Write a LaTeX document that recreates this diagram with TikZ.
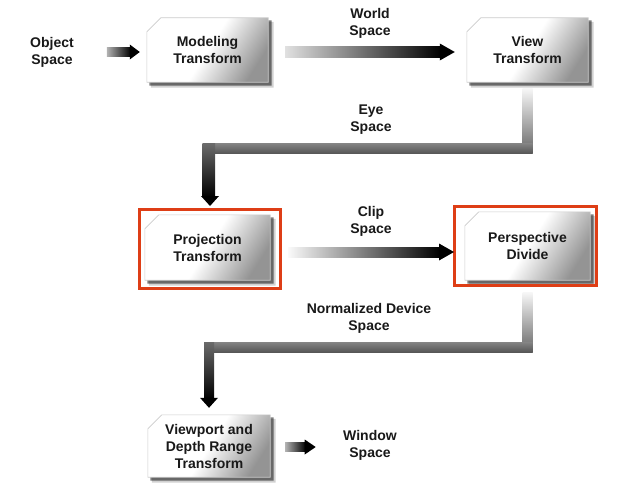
\documentclass[tikz,border=0pt]{standalone}
\usepackage{fontspec}
\setmainfont{Liberation Sans}
\usetikzlibrary{calc,backgrounds}
\definecolor{framered}{RGB}{222,62,22}
\newcommand\chambox[1]{%
  \fill[black, opacity=.18] ($(#1.north west)+(4,-18)$) -- ($(#1.north west)+(18,-4)$) -- ($(#1.north east)+(5.5,-4)$) -- ($(#1.south east)+(5.5,-5.5)$) -- ($(#1.south west)+(4,-5.5)$) -- cycle;
  \fill[black, opacity=.5] ($(#1.north west)+(2.5,-16.5)$) -- ($(#1.north west)+(16.5,-2.5)$) -- ($(#1.north east)+(3.5,-2.5)$) -- ($(#1.south east)+(3.5,-3.5)$) -- ($(#1.south west)+(2.5,-3.5)$) -- cycle;
  \shade[boxshade] ($(#1.north west)+(0,-14)$) -- ($(#1.north west)+(14,0)$) -- (#1.north east) -- (#1.south east) -- (#1.south west) -- cycle;
}
% start, tip, shaft half, head half, head length, shading
\newcommand\hArrow[6]{%
  \shade[#6] ($(#1)+(0,#3)$) rectangle ($(#2)+(-#5+1,-#3)$);
  \fill[black] ($(#2)+(-#5,#4)$) -- (#2) -- ($(#2)+(-#5,-#4)$) -- cycle;
}
\begin{document}
\begin{tikzpicture}[x=1pt,y=1pt,
  lbl/.style={align=center, text=black!90, font=\bfseries\fontsize{14}{17}\selectfont},
  boxnode/.style={lbl, inner sep=0pt},
  boxshade/.style={draw=black!20, line width=0.6pt, top color=white, bottom color=black!42, middle color=white, shading angle=58},
  redframe/.style={draw=framered, line width=3pt, inner sep=0pt}]
\useasboundingbox (0,0) rectangle (644,-495);

% boxes
\node[boxnode, minimum width=121, minimum height=64] (mod) at (207.5,-50) {Modeling\\Transform};
\node[boxnode, minimum width=121, minimum height=64] (view) at (527.5,-50) {View\\Transform};
\node[boxnode, minimum width=125, minimum height=65] (proj) at (207.5,-247.5) {Projection\\Transform};
\node[boxnode, minimum width=125, minimum height=68] (persp) at (527.5,-246) {Perspective\\Divide};
\node[boxnode, minimum width=122, minimum height=62] (vp) at (209,-446) {Viewport and\\Depth Range\\Transform};

\node[redframe, minimum width=141, minimum height=79] (projf) at (210,-249) {};
\node[redframe, minimum width=142, minimum height=79] (perspf) at (525.5,-246) {};

% labels
\node[lbl] (objs) at (52,-52) {Object\\Space};
\node[lbl] (world) at (370,-23) {World\\Space};
\node[lbl] (eye) at (371,-120) {Eye\\Space};
\node[lbl] (clip) at (371,-221) {Clip\\Space};
\node[lbl] (ndc) at (369,-318) {Normalized Device\\Space};
\node[lbl] (wins) at (370,-445) {Window\\Space};

\begin{pgfonlayer}{background}
  \fill[white] (0,0) rectangle (644,-495);
  \chambox{mod}
  \chambox{view}
  \chambox{proj}
  \chambox{persp}
  \chambox{vp}
\end{pgfonlayer}

% Object -> Modeling
\coordinate (a1s) at ($(mod.west)+(-40,-2)$);
\coordinate (a1t) at ($(mod.west)+(-7,-2)$);
\hArrow{a1s}{a1t}{4.5}{7.5}{10}{left color=black!30, right color=black}

% Modeling -> View
\coordinate (a2s) at ($(mod.east)+(17,-2)$);
\coordinate (a2t) at ($(view.west)+(-12,-2)$);
\hArrow{a2s}{a2t}{5}{8.5}{15}{left color=black!12, middle color=black!88, right color=black}

% View -> Projection (bent)
\coordinate (e1) at ($(view.south)+(0,-6)$);
\coordinate (e2) at ($(view.south)+(0,-66)$);
\coordinate (e3) at (e2 -| proj.north);
\coordinate (e4) at ($(projf.north)+(0,2)$);
\shade[top color=black!3, bottom color=black!60] ($(e1)+(-5,0)$) rectangle ($(e2)+(5,-5)$);
\shade[top color=black!48, bottom color=black!66] ($(e3)+(-5,5)$) rectangle ($(e2)+(5,-5)$);
\shade[top color=black!58, bottom color=black] ($(e3)+(-5,5)$) rectangle ($(e4)+(5,9)$);
\fill[black] (e4) -- ($(e4)+(-9,10)$) -- ($(e4)+(9,10)$) -- cycle;

% Projection -> Perspective
\coordinate (a3s) at ($(projf.east)+(6,-3)$);
\coordinate (a3t) at ($(a3s -| perspf.west)+(1,0)$);
\hArrow{a3s}{a3t}{5}{8.5}{15}{left color=black!2, middle color=black!90, right color=black}

% Perspective -> Viewport (bent)
\coordinate (n1) at ($(perspf.south)+(0,-5)$);
\coordinate (n2) at ($(perspf.south)+(0,-60)$);
\coordinate (n1) at (n1 -| persp.south);
\coordinate (n2) at (n2 -| persp.south);
\coordinate (n3) at (n2 -| vp.north);
\coordinate (n4) at ($(vp.north)+(0,7)$);
\shade[top color=black!3, bottom color=black!60] ($(n1)+(-5,0)$) rectangle ($(n2)+(5,-5)$);
\shade[top color=black!48, bottom color=black!66] ($(n3)+(-5,5)$) rectangle ($(n2)+(5,-5)$);
\shade[top color=black!58, bottom color=black] ($(n3)+(-5,5)$) rectangle ($(n4)+(5,9)$);
\fill[black] (n4) -- ($(n4)+(-9,10)$) -- ($(n4)+(9,10)$) -- cycle;

% Viewport -> Window
\coordinate (a4s) at ($(vp.east)+(15,-1)$);
\coordinate (a4t) at ($(a4s -| wins.west)+(-24,0)$);
\hArrow{a4s}{a4t}{4.5}{7.5}{11}{left color=black!30, right color=black}
\end{tikzpicture}
\end{document}
